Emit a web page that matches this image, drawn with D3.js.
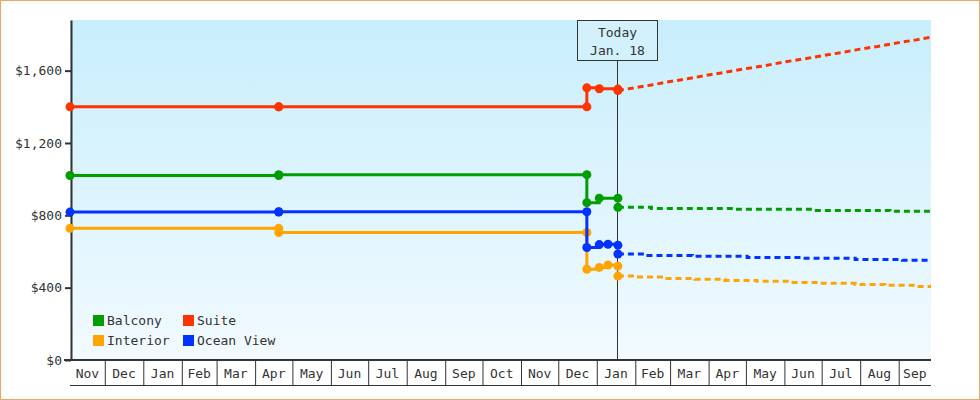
<!DOCTYPE html>
<html>
<head>
<meta charset="utf-8">
<title>Cabin prices</title>
<style type="text/css">
	body {
		margin: 0;
		background: white;
	}
	svg text {
		font-family: "DejaVu Sans Mono", monospace;
		font-size: 13px;
		fill: #333;
	}
</style>
</head>
<body>
<svg id="chart"></svg>

<script type="text/javascript" src="https://d3js.org/d3.v7.min.js"></script>
<script type="text/javascript">
	// observed prices (same dates for every cabin, null = no reading)
	var obsDates = ["2016-11-03", "2017-04-20", "2017-04-20", "2017-12-24", "2017-12-24", "2018-01-03", "2018-01-10", "2018-01-18"];
	var balconyObs = [1020, 1020, 1025, 1025, 870, 895, null, 895];
	var suiteObs = [1400, 1400, 1400, 1400, 1505, 1500, null, 1498];
	var interiorObs = [728, 728, 705, 705, 502, 512, 525, 519];
	var oceanObs = [818, 818, 820, 820, 622, 638, 640, 635];

	// forecast prices
	var balconyFcDates = ["2018-01-18", "2018-02-14", "2018-04-21", "2018-06-24", "2018-08-25", "2018-09-27"];
	var balconyFc = [844, 838, 833, 827, 822, 822];
	var suiteFcDates = ["2018-01-18", "2018-02-01", "2018-02-15", "2018-03-01", "2018-03-15", "2018-04-01", "2018-04-15",
		"2018-05-01", "2018-05-15", "2018-06-01", "2018-06-15", "2018-07-01", "2018-07-15", "2018-08-01", "2018-08-15",
		"2018-09-01", "2018-09-15", "2018-09-27"];
	var suiteFc = [1490, 1506, 1522, 1540, 1555, 1576, 1592, 1611, 1626, 1648, 1663, 1682, 1698, 1719, 1734, 1755, 1770, 1785];
	var interiorFcDates = ["2018-01-18", "2018-01-31", "2018-02-25", "2018-03-21", "2018-04-14", "2018-05-10", "2018-06-06",
		"2018-06-30", "2018-07-28", "2018-08-21", "2018-09-14", "2018-09-27"];
	var interiorFc = [464, 459, 451, 446, 440, 435, 429, 424, 418, 413, 407, 407];
	var oceanFcDates = ["2018-01-18", "2018-02-09", "2018-03-19", "2018-05-02", "2018-06-16", "2018-07-28", "2018-09-04", "2018-09-27"];
	var oceanFc = [586, 578, 573, 567, 562, 556, 551, 551];

	var yTicks = [0, 400, 800, 1200, 1600];
	var startDate = "2016-11-03", endDate = "2018-09-27", todayDate = "2018-01-18";
	var todayLabel = ["Today", "Jan. 18"];

	var parse = d3.utcParse("%Y-%m-%d");

	var series = [
		{name: "Balcony", color: "#009e00", obs: balconyObs, fcDates: balconyFcDates, fc: balconyFc, fcCurve: d3.curveStepAfter},
		{name: "Suite", color: "#ff3300", obs: suiteObs, fcDates: suiteFcDates, fc: suiteFc, fcCurve: d3.curveLinear},
		{name: "Interior", color: "#ffa400", obs: interiorObs, fcDates: interiorFcDates, fc: interiorFc, fcCurve: d3.curveStepAfter},
		{name: "Ocean View", color: "#0033ff", obs: oceanObs, fcDates: oceanFcDates, fc: oceanFc, fcCurve: d3.curveStepAfter}
	];

	var width = 980, height = 400;
	var plotLeft = 70, plotRight = 931, plotTop = 20, plotBottom = 360;

	var svg = d3.select("#chart")
		.attr("width", width)
		.attr("height", height);

	var x = d3.scaleUtc()
		.domain([parse(startDate), parse(endDate)])
		.range([plotLeft, plotRight]);

	var y = d3.scaleLinear()
		.domain([0, 1880])
		.range([plotBottom, plotTop]);

	// background gradient
	var grad = svg.append("defs").append("linearGradient")
		.attr("id", "bg")
		.attr("x1", 0).attr("y1", 0).attr("x2", 0).attr("y2", 1);
	grad.append("stop").attr("offset", "0%").attr("stop-color", "#c8eefc");
	grad.append("stop").attr("offset", "100%").attr("stop-color", "#f2faff");

	svg.append("rect")
		.attr("x", plotLeft).attr("y", plotTop)
		.attr("width", plotRight - plotLeft).attr("height", plotBottom - plotTop)
		.attr("fill", "url(#bg)");

	// x axis: month cells
	var xAxis = svg.append("g")
		.attr("transform", "translate(0," + plotBottom + ")")
		.call(d3.axisBottom(x).ticks(d3.utcMonth.every(1)).tickSize(25).tickFormat(""));
	xAxis.select(".domain").remove();
	xAxis.selectAll(".tick line").attr("stroke", "#333");

	var months = d3.utcMonths(d3.utcMonth.floor(x.domain()[0]), x.domain()[1]);
	svg.append("g").selectAll("text")
		.data(months)
		.enter().append("text")
		.attr("x", function(m) {
			var a = Math.max(m, x.domain()[0]);
			var b = Math.min(d3.utcMonth.offset(m, 1), x.domain()[1]);
			return (x(a) + x(b)) / 2;
		})
		.attr("y", plotBottom + 18)
		.attr("text-anchor", "middle")
		.text(d3.utcFormat("%b"));

	svg.append("line")
		.attr("x1", plotLeft).attr("x2", plotRight)
		.attr("y1", plotBottom + 25.5).attr("y2", plotBottom + 25.5)
		.attr("stroke", "#333");

	svg.append("line")
		.attr("x1", plotLeft - 6).attr("x2", plotRight)
		.attr("y1", plotBottom).attr("y2", plotBottom)
		.attr("stroke", "#333")
		.attr("stroke-width", 2);

	// y axis
	var yAxis = svg.append("g")
		.attr("transform", "translate(" + (plotLeft + 1) + ",0)")
		.call(d3.axisLeft(y).tickValues(yTicks).tickSize(6).tickSizeOuter(0).tickPadding(3).tickFormat(d3.format("$,")));
	yAxis.select(".domain").attr("stroke", "#333").attr("stroke-width", 2);
	yAxis.selectAll(".tick line").attr("stroke", "#333").attr("stroke-width", 2);
	yAxis.attr("font-family", null).attr("font-size", null);

	// today marker
	var tx = Math.floor(x(parse(todayDate))) + 0.5;
	svg.append("line")
		.attr("x1", tx).attr("x2", tx)
		.attr("y1", plotTop + 40).attr("y2", plotBottom)
		.attr("stroke", "#333");
	svg.append("rect")
		.attr("x", tx - 40).attr("y", plotTop + 0.5)
		.attr("width", 80).attr("height", 40)
		.attr("fill", "#d2f1fc")
		.attr("stroke", "#333");
	svg.selectAll(".today")
		.data(todayLabel)
		.enter().append("text")
		.attr("class", "today")
		.attr("x", tx)
		.attr("y", function(d, i) { return plotTop + 17 + i * 18; })
		.attr("text-anchor", "middle")
		.text(function(d) { return d; });

	// lines
	var plot = svg.append("g");

	series.forEach(function(s) {
		var obs = obsDates.map(function(d, i) { return {date: parse(d), value: s.obs[i]}; })
			.filter(function(d) { return d.value != null; });
		var fc = s.fcDates.map(function(d, i) { return {date: parse(d), value: s.fc[i]}; });

		var obsLine = d3.line()
			.curve(d3.curveStepAfter)
			.x(function(d) { return x(d.date); })
			.y(function(d) { return y(d.value); });
		var fcLine = d3.line()
			.curve(s.fcCurve)
			.x(function(d) { return x(d.date); })
			.y(function(d) { return y(d.value); });

		var g = plot.append("g");

		g.append("path")
			.datum(fc)
			.attr("d", fcLine)
			.attr("fill", "none")
			.attr("stroke", s.color)
			.attr("stroke-width", 3)
			.attr("stroke-dasharray", "6,4");

		g.append("path")
			.datum(obs)
			.attr("d", obsLine)
			.attr("fill", "none")
			.attr("stroke", s.color)
			.attr("stroke-width", 3);

		g.selectAll("circle")
			.data(obs.concat([fc[0]]))
			.enter().append("circle")
			.attr("cx", function(d) { return x(d.date); })
			.attr("cy", function(d) { return y(d.value); })
			.attr("r", 4.5)
			.attr("fill", s.color);
	});

	// legend
	var legend = svg.append("g").selectAll("g")
		.data(series)
		.enter().append("g")
		.attr("transform", function(d, i) {
			return "translate(" + (93 + (i % 2) * 90) + "," + (315 + Math.floor(i / 2) * 20) + ")";
		});
	legend.append("rect")
		.attr("width", 11).attr("height", 11)
		.attr("fill", function(d) { return d.color; });
	legend.append("text")
		.attr("x", 14)
		.attr("y", 10)
		.text(function(d) { return d.name; });

	// outer frame
	svg.append("rect")
		.attr("x", 0.5).attr("y", 0.5)
		.attr("width", width - 1).attr("height", height - 1)
		.attr("fill", "none")
		.attr("stroke", "#e8a862");
</script>
</body>
</html>
